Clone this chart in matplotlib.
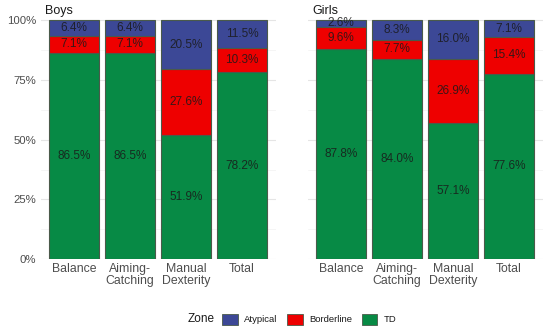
"""Motor competence zones (TD / Borderline / Atypical) by sex and MABC subtest."""

import matplotlib

matplotlib.use("agg")
import matplotlib.pyplot as plt
from matplotlib.patches import Patch
import numpy as np

plt.rcParams["font.family"] = ["Liberation Sans", "DejaVu Sans"]

CATEGORIES = ["Balance", "Aiming-\nCatching", "Manual\nDexterity", "Total"]
PANELS = ["Boys", "Girls"]

# percentages per category, bottom -> top
BOYS_TD = [86.5, 86.5, 51.9, 78.2]
BOYS_BORDERLINE = [7.1, 7.1, 27.6, 10.3]
BOYS_ATYPICAL = [6.4, 6.4, 20.5, 11.5]

GIRLS_TD = [87.8, 84.0, 57.1, 77.6]
GIRLS_BORDERLINE = [9.6, 7.7, 26.9, 15.4]
GIRLS_ATYPICAL = [2.6, 8.3, 16.0, 7.1]

ZONES = ["TD", "Borderline", "Atypical"]
COLORS = {"Atypical": "#3c4896", "Borderline": "#ee0000", "TD": "#078a45"}
EDGE = "#4a5a4a"

fig = plt.figure(figsize=(5.5, 3.3), dpi=100)
ax_l = fig.add_axes([0.0738, 0.215, 0.4273, 0.727])
ax_r = fig.add_axes([0.5593, 0.215, 0.4273, 0.727])

data = {
    "Boys": [BOYS_TD, BOYS_BORDERLINE, BOYS_ATYPICAL],
    "Girls": [GIRLS_TD, GIRLS_BORDERLINE, GIRLS_ATYPICAL],
}

x = np.arange(1, len(CATEGORIES) + 1)
for ax, panel in zip([ax_l, ax_r], PANELS):
    bottom = np.zeros(len(CATEGORIES))
    for zone, vals in zip(ZONES, data[panel]):
        vals = np.array(vals)
        ax.bar(x, vals, bottom=bottom, width=0.9, color=COLORS[zone],
               edgecolor=EDGE, linewidth=0.8, zorder=2)
        for xi, b, v in zip(x, bottom, vals):
            ax.text(xi, b + v / 2, f"{v:.1f}%", ha="center", va="center",
                    fontsize=8.5, color="#1a1a1a", alpha=0.85, zorder=3)
        bottom += vals

    ax.set_xlim(0.4, 4.6)
    ax.set_ylim(0, 100.5)
    ax.set_yticks([0, 25, 50, 75, 100])
    ax.set_yticks([12.5, 37.5, 62.5, 87.5], minor=True)
    ax.grid(axis="y", which="major", color="#e5e5e5", linewidth=0.8, zorder=0)
    ax.grid(axis="y", which="minor", color="#f2f2f2", linewidth=0.5, zorder=0)
    ax.set_xticks(x)
    ax.set_xticklabels(CATEGORIES, fontsize=8.8, color="#4d4d4d", linespacing=0.95)
    ax.tick_params(which="both", length=0, pad=3)
    for s in ax.spines.values():
        s.set_visible(False)
    ax.set_title(panel, loc="left", fontsize=9, color="#1a1a1a", pad=4, x=0.02)

ax_l.set_yticklabels(["0%", "25%", "50%", "75%", "100%"], fontsize=8.2, color="#4d4d4d")
ax_r.set_yticklabels([])

fig.text(0.342, 0.033, "Zone", fontsize=8.5, ha="left", va="center", color="#1a1a1a")
handles = [Patch(facecolor=COLORS[z], edgecolor=EDGE, linewidth=0.6, label=z)
           for z in ["Atypical", "Borderline", "TD"]]
fig.legend(handles=handles, loc="center left", bbox_to_anchor=(0.395, 0.033),
           ncol=3, frameon=False, fontsize=6.8, handlelength=1.65, handleheight=1.45,
           handletextpad=0.7, columnspacing=1.0, borderpad=0, labelcolor="#1a1a1a")

fig.savefig("out.png", dpi=100)
